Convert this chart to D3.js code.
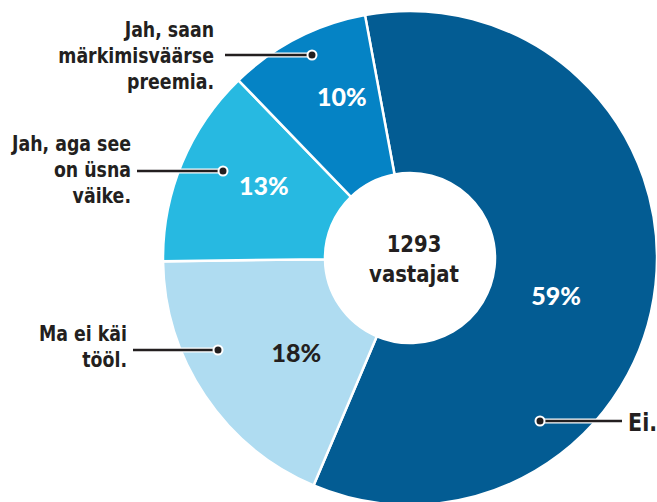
<!DOCTYPE html>
<html>
<head>
<meta charset="utf-8">
<script src="https://cdn.jsdelivr.net/npm/d3@7"></script>
<style>
  body { margin: 0; background: #fff; }
  .cat { font-family: "DejaVu Sans Condensed", "DejaVu Sans", sans-serif; font-weight: bold; font-size: 21px; fill: #231f20; }
  .pct { font-family: Lato, Roboto, sans-serif; font-weight: 900; font-size: 25px; }
  .mid { font-family: "DejaVu Sans Condensed", "DejaVu Sans", sans-serif; font-weight: bold; font-size: 23.5px; fill: #231f20; }
</style>
</head>
<body>
<div id="chart"></div>
<script>
// shares as drawn (slightly off the rounded labels)
const shares = [59.3, 18.4, 13.0, 9.3];
const pctLabels = ['59%', '18%', '13%', '10%'];
const labelLines = [['Ei.'], ['Ma ei käi', 'tööl.'], ['Jah, aga see', 'on üsna', 'väike.'], ['Jah, saan', 'märkimisväärse', 'preemia.']];
const colors = ['#035c93', '#afdcf1', '#27b9e1', '#0583c5'];
const respondents = ['1293', 'vastajat'];

const WIDTH = 657;
const HEIGHT = 502;
const CX = 410, CY = 258;
const R_OUT = 247, R_IN = 85;
const deg = Math.PI / 180;

const svg = d3.select('#chart')
    .append('svg')
    .attr('width', WIDTH)
    .attr('height', HEIGHT);

const g = svg.append('g')
    .attr('transform', `translate(${CX}, ${CY})`);

const pie = d3.pie()
    .sort(null)
    .startAngle(-10.5 * deg)
    .endAngle(349.5 * deg);

const arcs = pie(shares);

const arc = d3.arc()
    .innerRadius(R_IN)
    .outerRadius(R_OUT);

// slices
g.selectAll('path')
    .data(arcs)
    .enter()
    .append('path')
    .attr('d', arc)
    .attr('fill', (d, i) => colors[i])
    .attr('stroke', '#fff')
    .attr('stroke-width', 2.5);

// percent labels, polar position (angle deg, radius) per slice
const pctPos = [
    { a: 104.6, r: 151 },
    { a: 230.2, r: 148 },
    { a: 296.3, r: 163 },
    { a: 337.1, r: 175 }
];
g.selectAll('.pct')
    .data(arcs)
    .enter()
    .append('text')
    .attr('class', 'pct')
    .attr('text-anchor', 'middle')
    .attr('x', (d, i) => Math.sin(pctPos[i].a * deg) * pctPos[i].r)
    .attr('y', (d, i) => -Math.cos(pctPos[i].a * deg) * pctPos[i].r + 9)
    .attr('fill', (d, i) => i === 1 ? '#231f20' : '#fff')
    .text((d, i) => pctLabels[i]);

// center text
respondents.forEach((s, i) => {
    svg.append('text')
        .attr('class', 'mid')
        .attr('text-anchor', 'middle')
        .attr('transform', `translate(414, ${252 + i * 30}) scale(0.93, 1)`)
        .text(s);
});

// callouts: dot in slice, line out to the label
const callouts = [
    { dot: [540, 421], end: 622, ty: 431, anchor: 'start', tx: 628, size: 25 },
    { dot: [218, 350], end: 133, ty: 341, anchor: 'end', tx: 127, size: 21 },
    { dot: [223, 171], end: 137, ty: 151, anchor: 'end', tx: 131, size: 21 },
    { dot: [312, 55], end: 225, ty: 37, anchor: 'end', tx: 214, size: 21 }
];
const lineH = 26;

callouts.forEach((c, i) => {
    svg.append('line')
        .attr('x1', c.dot[0]).attr('y1', c.dot[1])
        .attr('x2', c.end).attr('y2', c.dot[1])
        .attr('stroke', '#fff')
        .attr('stroke-width', 5);
    svg.append('line')
        .attr('x1', c.dot[0]).attr('y1', c.dot[1])
        .attr('x2', c.end).attr('y2', c.dot[1])
        .attr('stroke', '#231f20')
        .attr('stroke-width', 2.5);
    svg.append('circle')
        .attr('cx', c.dot[0]).attr('cy', c.dot[1])
        .attr('r', 4.5)
        .attr('fill', '#231f20')
        .attr('stroke', '#fff')
        .attr('stroke-width', 2);

    const t = svg.append('text')
        .attr('class', 'cat')
        .attr('text-anchor', c.anchor)
        .style('font-size', c.size + 'px')
        .attr('transform', `translate(${c.tx}, 0) scale(0.92, 1)`);
    labelLines[i].forEach((line, j) => {
        t.append('tspan')
            .attr('x', 0)
            .attr('y', c.ty + j * lineH)
            .text(line);
    });
});
</script>
</body>
</html>
